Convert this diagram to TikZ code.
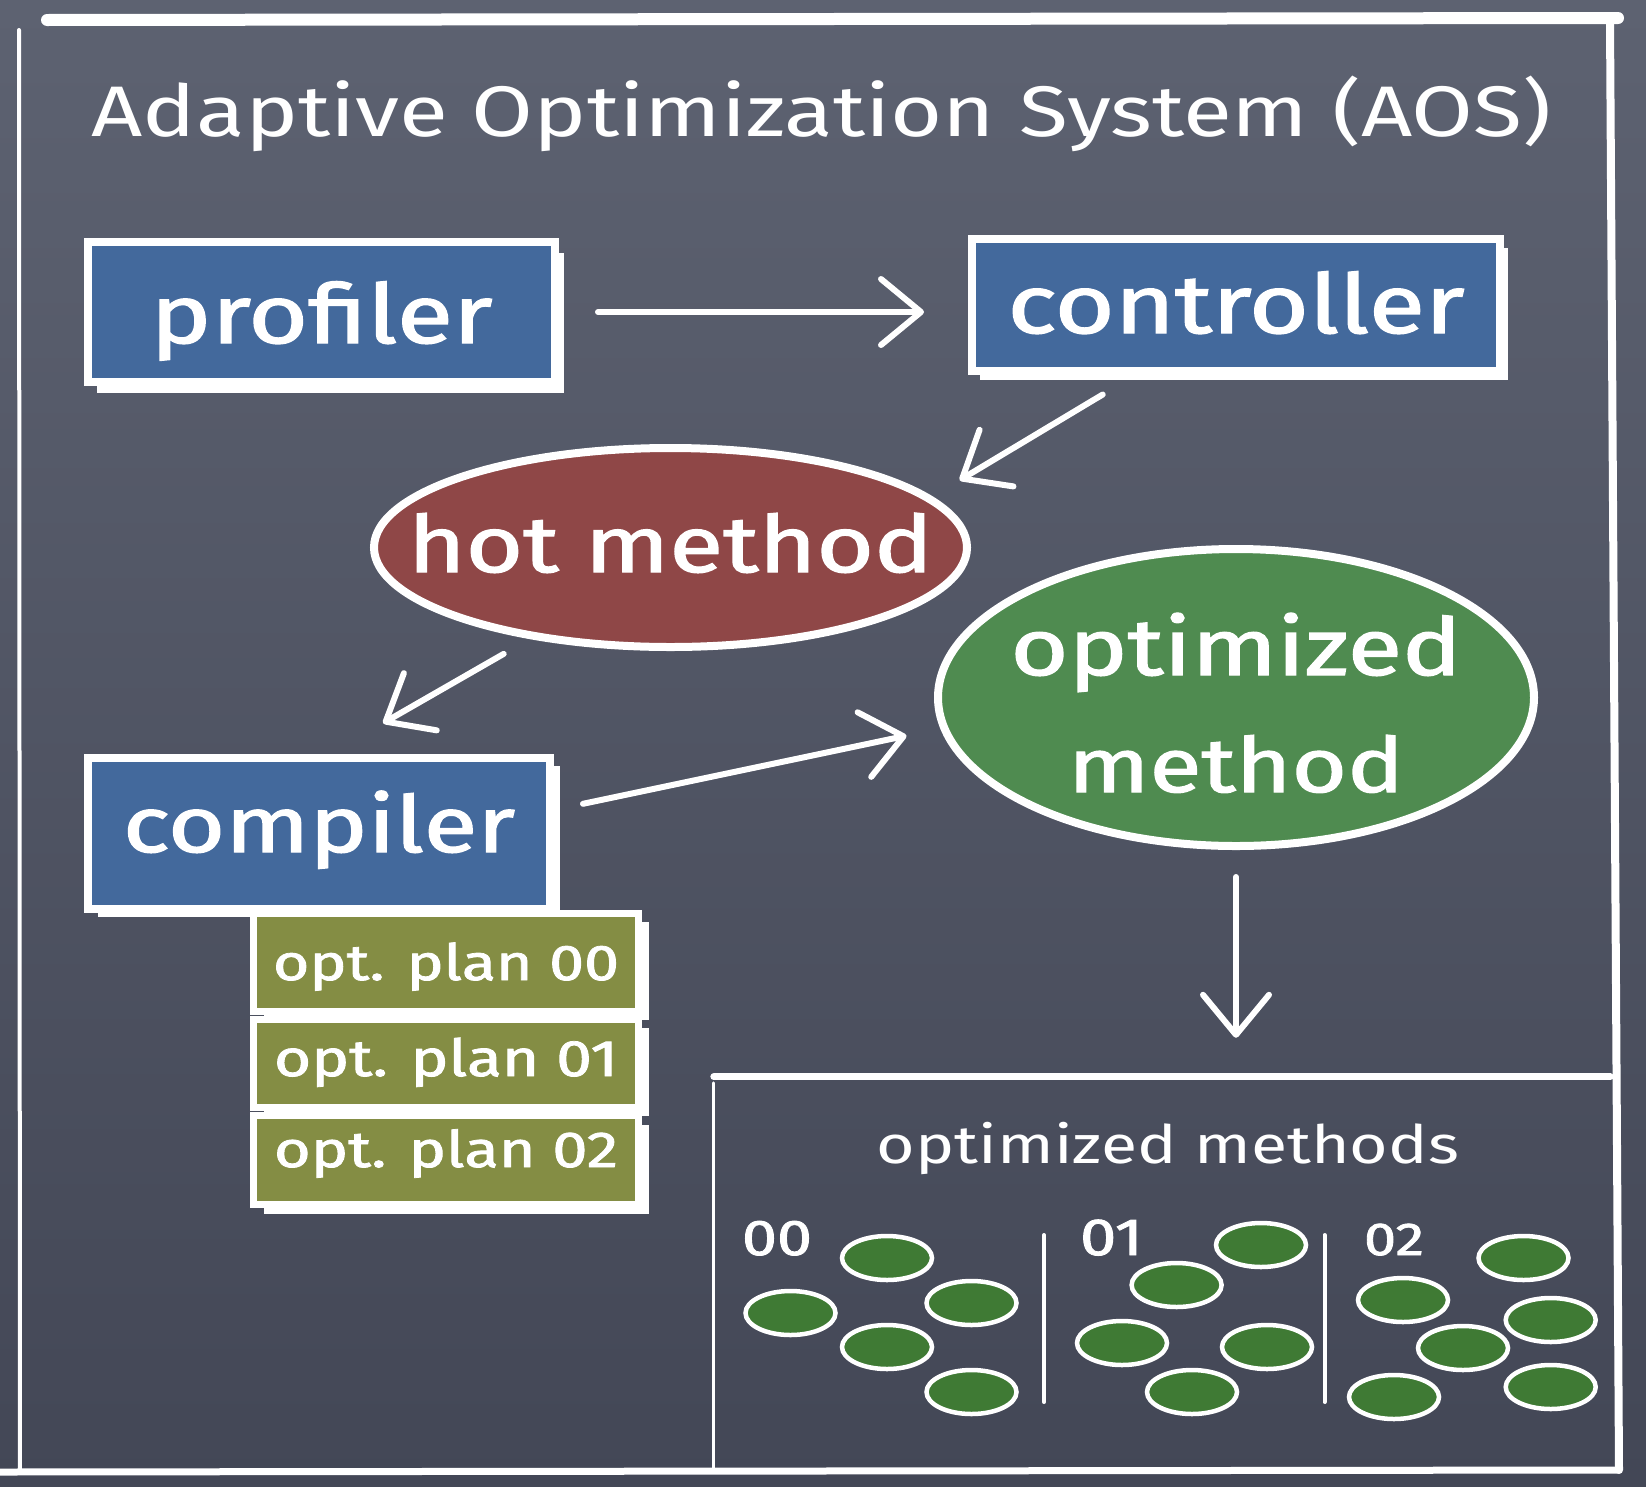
\documentclass[tikz,border=0pt]{standalone}
\usepackage{graphicx}
\usepackage{fontspec}
\setmainfont{Fira Sans}
\newfontfamily\heavychalk{Fira Sans}[FakeBold=1.5]
\usetikzlibrary{arrows.meta,shapes.geometric,shadows,calc}

\definecolor{boardtop}{HTML}{5D6271}
\definecolor{boardbot}{HTML}{434756}
\definecolor{boxblue}{HTML}{43699C}
\definecolor{hotred}{HTML}{8F4747}
\definecolor{optgreen}{HTML}{4F8B50}
\definecolor{planolive}{HTML}{848D44}
\definecolor{dotgreen}{HTML}{3F7A34}

% chalk lettering: wide letters fitted to a given width
\newcommand\chalk[2]{\resizebox{#1}{!}{\scalebox{1.25}[1]{#2}}}
\newcommand\chalkb[2]{\resizebox{#1}{!}{\scalebox{1.25}[1]{\heavychalk #2}}}

\begin{document}
\begin{tikzpicture}[x=1pt,y=-1pt,
  chalkbox/.style={rectangle, draw=white, line width=8pt, inner sep=0pt,
                   text=white, text depth=0pt},
  edge shift/.style 2 args={general shadow={fill=white, shadow xshift=#1, shadow yshift=-#2}},
  planbox/.style={chalkbox, line width=7pt, fill=planolive, minimum width=385pt},
  chalkoval/.style={ellipse, draw=white, line width=8pt, inner sep=0pt,
                    text=white, text depth=0pt},
  methoddot/.style={ellipse, draw=white, line width=4.5pt, fill=dotgreen,
                    minimum width=90pt, minimum height=44pt, inner sep=0pt},
  chalktext/.style={text=white, inner sep=0pt, anchor=base},
  chalkline/.style={draw=white, line cap=round},
  chalkarrow/.style={draw=white, line width=6pt, line cap=round,
                     -{Straight Barb[length=40pt, width=66pt, round]}},
]
% board
\shade[top color=boardtop, bottom color=boardbot] (0,0) rectangle (1646,1486);
\useasboundingbox (0,0) rectangle (1646,1486);

% frame
\draw[chalkline, line width=12pt] (47,20) -- (1618,18);
\draw[chalkline, line width=4pt] (19,30) -- (20,1472);
\draw[chalkline, line width=8pt] (1610,22) -- (1619,1470);
\draw[chalkline, line width=7pt] (0,1472) -- (1618,1470);

% title
\node[chalktext] (title) at (821.5,136) {\chalk{1459pt}{Adaptive Optimization System (AOS)}};

% components
\node[chalkbox, fill=boxblue, edge shift={9pt}{11pt}, minimum width=467pt,
      minimum height=140pt, text height=62pt] (profiler) at (321.5,312) {\chalkb{342pt}{profiler}};
\node[chalkbox, fill=boxblue, edge shift={8pt}{9pt}, minimum width=528pt,
      minimum height=132pt, text height=56pt] (controller) at (1236,305) {\chalkb{457pt}{controller}};
\node[chalkoval, fill=hotred, minimum width=593pt, minimum height=199pt,
      text height=49pt] (hot) at (670.5,547.5) {\makebox[0pt]{\chalkb{525pt}{hot method}}};
\node[chalkoval, fill=optgreen, minimum width=596pt, minimum height=297pt,
      text height=0pt] (optm) at (1236,697.5)
      {\makebox[0pt]{\smash{\raisebox{22.5pt}{\chalkb{451pt}{optimized}}}}%
       \makebox[0pt]{\smash{\raisebox{-94.5pt}{\chalkb{336pt}{method}}}}};
\node[chalkbox, fill=boxblue, edge shift={10pt}{8pt}, minimum width=462pt,
      minimum height=151pt, text height=37pt] (compiler) at (319,833.5) {\chalkb{392pt}{compiler}};

% optimization plans
\node[planbox, edge shift={10.5pt}{8pt}, minimum height=98pt, text height=35pt]
      (plan0) at (446,962.5) {\chalkb{346pt}{opt. plan 00}};
\node[planbox, edge shift={10.5pt}{8pt}, minimum height=88pt, text height=25pt]
      (plan1) at (446,1063.5) {\chalkb{344pt}{opt. plan 01}};
\node[planbox, edge shift={10.5pt}{9.5pt}, minimum height=89pt, text height=14pt]
      (plan2) at (446,1160) {\chalkb{344pt}{opt. plan 02}};

% store of optimized methods
\node[minimum width=896pt, minimum height=393pt, inner sep=0pt] (panel) at (1162,1273.5) {};
\draw[chalkline, line width=7pt] (panel.north west) -- (panel.north east);
\draw[chalkline, line width=3pt] ([yshift=-6pt]panel.north west) -- (panel.south west);
\node[chalktext] (omlabel) at (1168,1163) {\chalk{582pt}{optimized methods}};
\node[chalktext] (lvl0) at (777,1255) {\chalkb{70pt}{00}};
\node[chalktext] (lvl1) at (1111.5,1255) {\chalkb{63pt}{01}};
\node[chalktext] (lvl2) at (1394,1255) {\chalkb{60pt}{02}};
\draw[chalkline, line width=4pt] (1044,1235) -- (1044,1402);
\draw[chalkline, line width=4pt] (1324.5,1235) -- (1324.5,1402);

\foreach \p [count=\i] in {(887,1258),(790.5,1313),(971.5,1303),(887,1347),(971.5,1392)}
  \node[methoddot] (a\i) at \p {};
\foreach \p [count=\i] in {(1261,1245),(1176.6,1285),(1122,1343),(1267,1347),(1192,1392)}
  \node[methoddot] (b\i) at \p {};
\foreach \p [count=\i] in {(1523.5,1258),(1403,1300),(1550.7,1320),(1463,1348),(1394,1397),(1550.7,1387)}
  \node[methoddot] (c\i) at \p {};

% flow
\draw[chalkarrow, shorten <=39pt, shorten >=44pt] (profiler.east) -- (profiler.east -| controller.west);
\draw[chalkarrow, shorten <=38pt, shorten >=32pt] ([xshift=-100.7pt]controller.south) -- (hot.11.65);
\draw[chalkarrow, shorten <=30pt, shorten >=62pt] (hot.213) -- ([xshift=10.3pt]compiler.north);
\draw[chalkarrow, shorten <=29.6pt, shorten >=34.6pt] ([yshift=23.6pt]compiler.east) -- (optm.186.6);
\draw[chalkarrow, shorten <=27pt, shorten >=39pt] (optm.south) -- (optm.south |- panel.north);
\end{tikzpicture}
\end{document}
